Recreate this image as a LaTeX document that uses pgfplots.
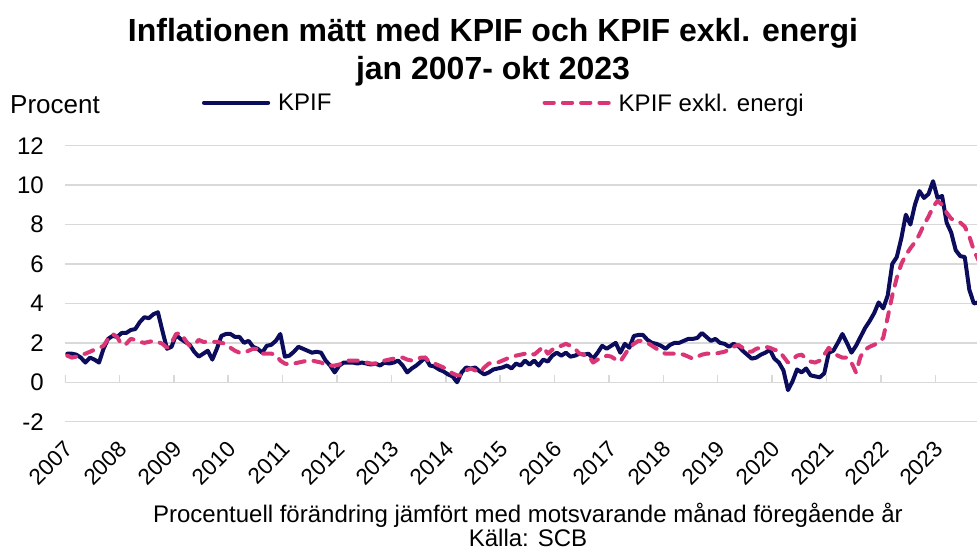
\documentclass[border=0pt]{standalone}
\usepackage{fontspec}
\setmainfont{Liberation Sans}
\usepackage{pgfplots}
\usepackage{pgfplotstable}
\pgfplotsset{compat=1.18}
\definecolor{kpifblue}{RGB}{12,12,92}
\definecolor{kpifpink}{RGB}{218,54,118}
\definecolor{gridgray}{RGB}{217,217,217}
\pgfplotstableread{
m kpif xe
0 1.45 1.35
1 1.45 1.25
2 1.4 1.3
3 1.25 1.4
4 1.0 1.45
5 1.25 1.55
6 1.15 1.65
7 1.0 1.75
8 1.7 1.85
9 2.2 2.2
10 2.35 2.45
11 2.3 2.3
12 2.5 1.9
13 2.5 1.95
14 2.65 2.2
15 2.7 2.15
16 3.05 2.05
17 3.3 2.0
18 3.25 2.05
19 3.45 2.1
20 3.55 2.05
21 2.6 1.95
22 1.7 1.75
23 1.8 2.0
24 2.4 2.45
25 2.2 2.5
26 2.05 2.15
27 1.9 1.85
28 1.55 1.9
29 1.3 2.15
30 1.45 2.05
31 1.6 2.05
32 1.15 2.05
33 1.7 2.05
34 2.35 2.0
35 2.45 1.95
36 2.45 1.75
37 2.3 1.6
38 2.3 1.5
39 2.0 1.5
40 2.1 1.6
41 1.8 1.7
42 1.7 1.7
43 1.5 1.45
44 1.85 1.45
45 1.9 1.45
46 2.1 1.4
47 2.45 1.1
48 1.3 0.95
49 1.35 0.9
50 1.55 0.95
51 1.8 1.0
52 1.7 1.05
53 1.6 1.1
54 1.5 1.1
55 1.55 1.05
56 1.5 1.0
57 1.1 0.9
58 0.85 0.85
59 0.5 0.85
60 0.85 0.9
61 1.0 1.0
62 1.0 1.1
63 1.0 1.1
64 0.95 1.1
65 1.0 1.05
66 0.95 1.0
67 0.9 0.95
68 0.95 0.95
69 0.85 1.05
70 1.0 1.1
71 0.95 1.15
72 1.0 1.2
73 1.1 1.25
74 0.85 1.25
75 0.5 1.15
76 0.7 1.1
77 0.85 1.15
78 1.05 1.25
79 1.25 1.25
80 0.85 1.0
81 0.8 0.95
82 0.65 0.85
83 0.55 0.75
84 0.4 0.6
85 0.3 0.45
86 0.0 0.35
87 0.5 0.35
88 0.75 0.6
89 0.7 0.7
90 0.75 0.6
91 0.55 0.5
92 0.4 0.75
93 0.5 0.95
94 0.65 1.0
95 0.7 1.0
96 0.75 1.1
97 0.85 1.2
98 0.7 1.25
99 0.95 1.35
100 0.85 1.4
101 1.1 1.45
102 0.9 1.5
103 1.1 1.4
104 0.85 1.6
105 1.15 1.8
106 1.05 1.45
107 1.35 1.65
108 1.5 1.8
109 1.35 1.85
110 1.5 1.95
111 1.3 1.85
112 1.35 1.7
113 1.45 1.45
114 1.4 1.4
115 1.45 1.35
116 1.2 1.0
117 1.5 1.15
118 1.85 1.2
119 1.7 1.35
120 1.85 1.3
121 2.0 1.15
122 1.5 1.05
123 1.95 1.4
124 1.75 1.75
125 2.35 1.95
126 2.4 2.1
127 2.4 2.1
128 2.15 2.0
129 2.0 1.85
130 1.95 1.7
131 1.85 1.55
132 1.7 1.45
133 1.9 1.45
134 2.0 1.45
135 2.0 1.45
136 2.1 1.4
137 2.2 1.3
138 2.2 1.2
139 2.25 1.3
140 2.5 1.4
141 2.3 1.45
142 2.1 1.45
143 2.2 1.45
144 2.0 1.5
145 1.95 1.55
146 1.8 1.65
147 1.95 1.8
148 1.85 1.9
149 1.6 1.75
150 1.4 1.55
151 1.2 1.55
152 1.25 1.7
153 1.4 1.75
154 1.5 1.8
155 1.65 1.75
156 1.2 1.65
157 1.0 1.6
158 0.6 1.3
159 -0.4 1.0
160 0.05 1.15
161 0.65 1.35
162 0.5 1.4
163 0.7 1.2
164 0.35 1.05
165 0.3 1.0
166 0.25 1.1
167 0.45 1.4
168 1.5 1.75
169 1.6 1.5
170 2.0 1.35
171 2.45 1.25
172 2.0 1.25
173 1.5 1.0
174 1.85 0.5
175 2.3 1.3
176 2.75 1.65
177 3.1 1.8
178 3.5 1.9
179 4.05 2.0
180 3.75 2.25
181 4.4 3.3
182 6.0 4.4
183 6.35 5.3
184 7.3 6.0
185 8.5 6.45
186 8.0 6.8
187 9.0 7.1
188 9.7 7.5
189 9.35 8.0
190 9.55 8.4
191 10.2 8.9
192 9.35 9.2
193 9.45 9.0
194 8.1 8.6
195 7.6 8.3
196 6.7 8.2
197 6.4 8.1
198 6.35 7.9
199 4.7 7.4
200 4.0 6.7
201 4.05 6.2
}\datatable

\begin{document}
\begin{tikzpicture}
\useasboundingbox (0pt,0pt) rectangle (977pt,552pt);
\begin{axis}[
  at={(65pt,130.3pt)}, anchor=south west,
  scale only axis, width=912pt, height=276pt,
  xmin=0, xmax=201.2, ymin=-2, ymax=12,
  ytick={-2,0,2,4,6,8,10,12},
  xtick={0,12,24,36,48,60,72,84,96,108,120,132,144,156,168,180,192},
  xticklabels={2007,2008,2009,2010,2011,2012,2013,2014,2015,2016,2017,2018,2019,2020,2021,2022,2023},
  axis line style={draw=none},
  major tick length=0pt,
  ymajorgrids,
  grid style={gridgray, line width=1.5pt},
  yticklabel style={font=\fontsize{24}{28}\selectfont},
  /pgf/number format/assume math mode=true,
  yticklabel style={anchor=east, inner sep=0pt, xshift=-21pt},
  xticklabel style={font=\fontsize{22.5}{26}\selectfont, xshift=-2pt, yshift=-18pt, rotate=45, anchor=north east, inner sep=0pt},
  legend columns=2,
  legend style={draw=none, fill=none, at={(0.1502,1.1558)}, anchor=west,
    inner sep=0pt, outer sep=0pt, font=\fontsize{24}{28}\selectfont,
    nodes={inner sep=0pt, anchor=west, text depth=0pt},
    /tikz/every odd column/.append style={column sep=8pt},
    /tikz/every even column/.append style={column sep=211pt}},
  legend image code/.code={\draw[#1] (0pt,0pt) -- (64.2pt,0pt);},
]
\pgfplotsinvokeforeach{0,12,24,36,48,60,72,84,96,108,120,132,144,156,168,180,192}{
  \draw[gridgray, line width=1.5pt] (axis cs:#1,0) -- ++(0pt,7pt);
}
\addplot[kpifblue, line width=4pt, line join=round, line cap=round]
  table[x expr=\thisrow{m}+0.5, y=kpif] {\datatable};
\addlegendentry{KPIF}
\addplot[kpifpink, line width=4pt, line join=round, line cap=round, dash pattern=on 9.3pt off 9pt]
  table[x expr=\thisrow{m}+0.5, y=xe] {\datatable};
\addlegendentry{KPIF exkl. energi}
\end{axis}
\node[anchor=base, inner sep=0pt, font=\bfseries\fontsize{32}{38}\selectfont] at (493pt,510pt) {Inflationen mätt med KPIF och KPIF exkl. energi};
\node[anchor=base, inner sep=0pt, font=\bfseries\fontsize{32}{38}\selectfont] at (493pt,472pt) {jan 2007- okt 2023};
\node[anchor=base west, inner sep=0pt, font=\fontsize{26}{30}\selectfont] at (10pt,438.7pt) {Procent};
\node[anchor=base, inner sep=0pt, font=\fontsize{24}{28}\selectfont] at (528pt,29.5pt) {Procentuell förändring jämfört med motsvarande månad föregående år};
\node[anchor=base, inner sep=0pt, font=\fontsize{24}{28}\selectfont] at (528pt,6pt) {Källa: SCB};
\end{tikzpicture}
\end{document}
